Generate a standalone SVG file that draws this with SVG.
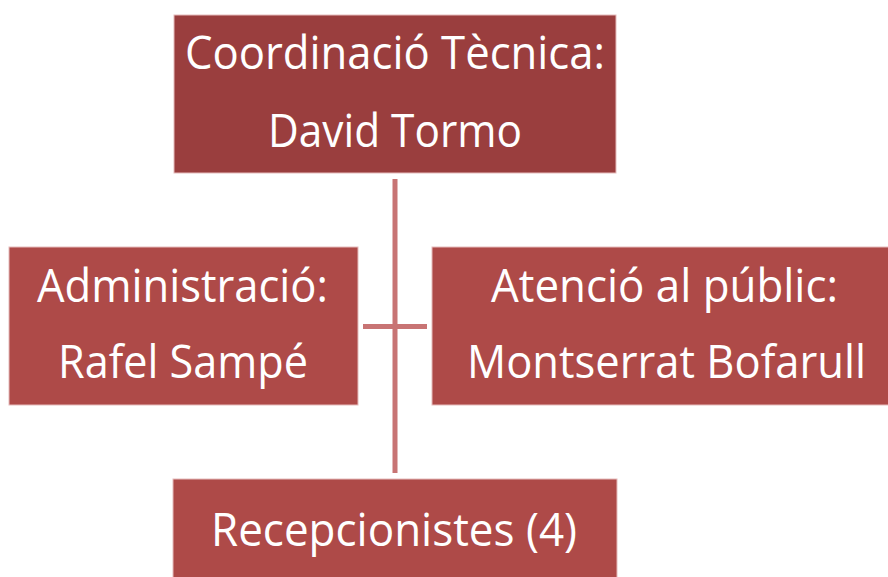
<svg xmlns="http://www.w3.org/2000/svg" width="888" height="577" viewBox="0 0 888 577">
<style>
.box{stroke:#e6bcbc;stroke-width:1}
.top{fill:#9a3e3e}
.sub{fill:#ae4a48}
text{font-family:"Open Sans","Liberation Sans",sans-serif;font-size:46px;fill:#ffffff;text-anchor:middle}
.conn{stroke:#c87474;stroke-width:5;fill:none}
</style>
<rect width="888" height="577" fill="#ffffff"/>
<g id="connectors">
<line class="conn" x1="395" y1="179" x2="395" y2="473"/>
<line class="conn" x1="363" y1="326.5" x2="427" y2="326.5"/>
</g>
<g id="node-coordinacio">
<rect class="box top" x="174" y="15" width="442" height="158"/>
<text x="395" y="69" textLength="420" lengthAdjust="spacingAndGlyphs">Coordinació Tècnica:</text>
<text x="395" y="147" textLength="254" lengthAdjust="spacingAndGlyphs">David Tormo</text>
</g>
<g id="node-administracio">
<rect class="box sub" x="9" y="247" width="349" height="158"/>
<text x="182.5" y="302" textLength="291" lengthAdjust="spacingAndGlyphs">Administració:</text>
<text x="183" y="378" textLength="250" lengthAdjust="spacingAndGlyphs">Rafel Sampé</text>
</g>
<g id="node-atencio">
<rect class="box sub" x="432" y="247" width="460" height="158"/>
<text x="664.5" y="302" textLength="347" lengthAdjust="spacingAndGlyphs">Atenció al públic:</text>
<text x="666.5" y="378" textLength="399" lengthAdjust="spacingAndGlyphs">Montserrat Bofarull</text>
</g>
<g id="node-recepcionistes">
<rect class="box sub" x="173" y="479" width="444" height="110"/>
<text x="394" y="546" textLength="366" lengthAdjust="spacingAndGlyphs">Recepcionistes (4)</text>
</g>
</svg>
